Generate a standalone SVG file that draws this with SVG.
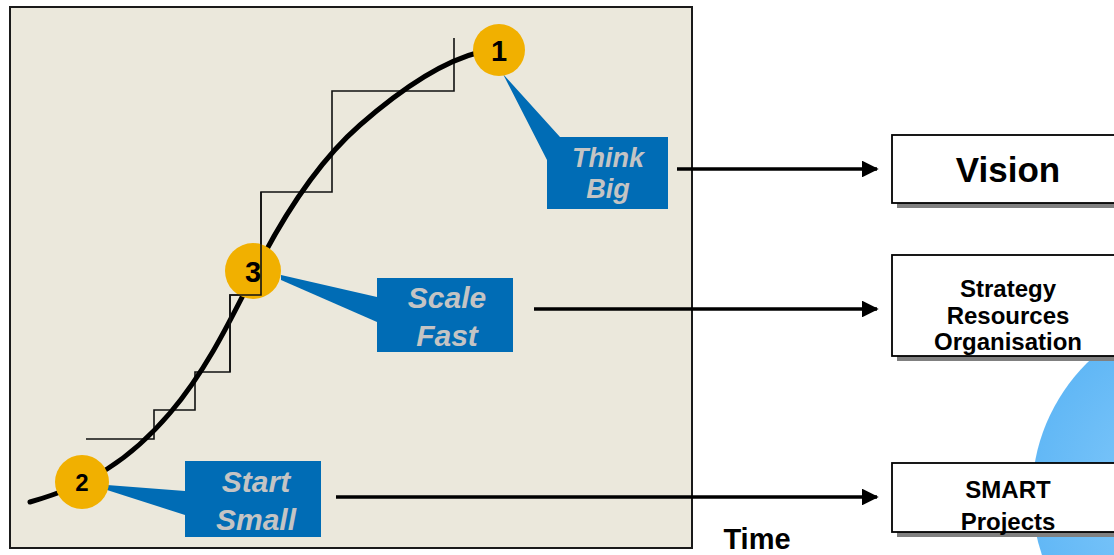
<svg xmlns="http://www.w3.org/2000/svg" width="1114" height="555" viewBox="0 0 1114 555">
<defs>
<style>
.callout{fill:#006CB5}
.ctext{font-family:"Liberation Sans",Arial,sans-serif;font-weight:bold;font-style:italic;fill:#C4C4C4;text-anchor:middle}
.num{font-family:"Liberation Sans",Arial,sans-serif;font-weight:bold;fill:#000;text-anchor:middle}
.badge{fill:#F1B000}
.step{fill:none;stroke:#111;stroke-width:1.6}
.conn{stroke:#000;stroke-width:3.5;fill:none}
.box{fill:#fff;stroke:#000;stroke-width:1.8}
.shadow{fill:#808080}
.btext{font-family:"Liberation Sans",Arial,sans-serif;font-weight:bold;fill:#000;text-anchor:middle}
</style>
<marker id="arr" viewBox="0 0 10 10" refX="9" refY="5" markerWidth="4.8" markerHeight="4.8" markerUnits="strokeWidth" orient="auto">
<path d="M0,0 L10,5 L0,10 z" fill="#000"/>
</marker>
<radialGradient id="globe" cx="0.45" cy="0.5" r="0.6">
<stop offset="0" stop-color="#8ACDFB"/>
<stop offset="1" stop-color="#55B1F4"/>
</radialGradient>
</defs>

<g id="globe-bg">
<circle cx="1218" cy="495" r="186" fill="url(#globe)"/>
</g>

<g id="chart">
<rect x="10" y="7" width="682" height="541" fill="#EBE8DC" stroke="#1a1a1a" stroke-width="2"/>
<path class="step" d="M86,439 H154 V410 H195 V372 H230 V295 H261 V192 H332 V91 H454 V38"/>
<path d="M30,502 C90,485 130,460 170,413 C210,366 235,310 260,262 C285,214 320,160 360,125 C400,90 440,62 480,52" fill="none" stroke="#000" stroke-width="5" stroke-linecap="round"/>
<text x="757" y="549" class="btext" font-size="29">Time</text>
</g>

<g id="callout-think-big">
<polygon class="callout" points="503,74 560,137 547,137 547,160"/>
<rect class="callout" x="547" y="137" width="121" height="72"/>
<text class="ctext" font-size="27" x="608" y="167">Think</text>
<text class="ctext" font-size="27" x="608" y="198">Big</text>
</g>

<g id="callout-scale-fast">
<polygon class="callout" points="281,275 377,297 377,322 281,280"/>
<rect class="callout" x="377" y="278" width="136" height="74"/>
<text class="ctext" font-size="30" x="447" y="308">Scale</text>
<text class="ctext" font-size="30" x="447" y="346">Fast</text>
</g>

<g id="callout-start-small">
<polygon class="callout" points="107,485 185,491 185,515 107,490"/>
<rect class="callout" x="185" y="461" width="136" height="76"/>
<text class="ctext" font-size="30" x="256" y="492">Start</text>
<text class="ctext" font-size="30" x="256" y="530">Small</text>
</g>

<g id="badge-1">
<circle class="badge" cx="499" cy="50" r="26"/>
<text class="num" font-size="29" x="499" y="61">1</text>
</g>
<g id="badge-2">
<circle class="badge" cx="82" cy="482" r="27"/>
<text class="num" font-size="24" x="82" y="491">2</text>
</g>
<g id="badge-3">
<circle class="badge" cx="253" cy="271" r="28"/>
<text class="num" font-size="29" x="253" y="282">3</text>
</g>
<path class="step" d="M230,372 V295 H261 V192"/>

<g id="connectors">
<line class="conn" x1="677" y1="169" x2="877" y2="169" marker-end="url(#arr)"/>
<line class="conn" x1="534" y1="309" x2="877" y2="309" marker-end="url(#arr)"/>
<line class="conn" x1="336" y1="497" x2="877" y2="497" marker-end="url(#arr)"/>
</g>

<g id="node-vision">
<rect class="shadow" x="897" y="140" width="232" height="68"/>
<rect class="box" x="892" y="135" width="232" height="68"/>
<text class="btext" font-size="35" x="1008" y="182">Vision</text>
</g>

<g id="node-strategy">
<rect class="shadow" x="897" y="260" width="232" height="101"/>
<rect class="box" x="892" y="255" width="232" height="101"/>
<text class="btext" font-size="24" x="1008" y="297">Strategy</text>
<text class="btext" font-size="24" x="1008" y="324">Resources</text>
<text class="btext" font-size="24" x="1008" y="350">Organisation</text>
</g>

<g id="node-smart">
<rect class="shadow" x="897" y="468" width="232" height="69"/>
<rect class="box" x="892" y="463" width="232" height="69"/>
<text class="btext" font-size="24" x="1008" y="498">SMART</text>
<text class="btext" font-size="24" x="1008" y="530">Projects</text>
</g>
</svg>
